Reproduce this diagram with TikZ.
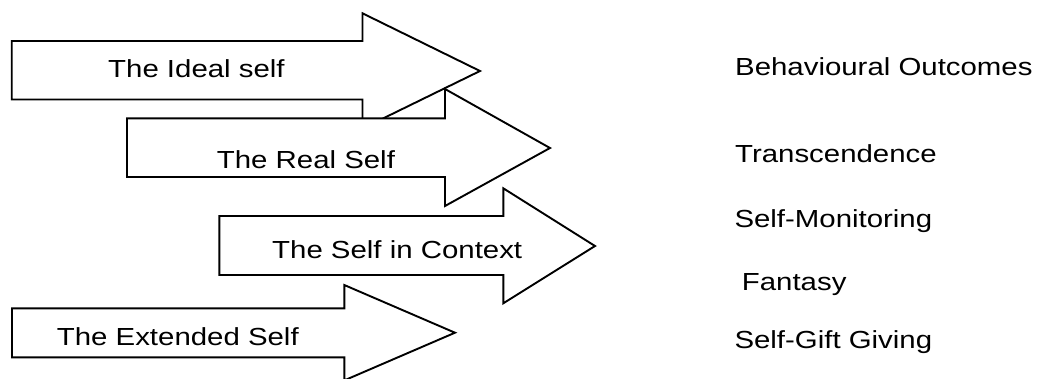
\documentclass[tikz,border=0pt]{standalone}
\usepackage{fontspec}
\usepackage{graphicx}
\setmainfont{Liberation Sans}
\newcommand\stretchtxt[1]{\scalebox{1.19}[1]{#1}}
\tikzset{
  x=1pt, y=-1pt,
  blockarrow/.style={draw=black, fill=white, line width=1.9pt, line join=miter},
  lbl/.style={font=\fontsize{24.7}{30}\selectfont, inner sep=0pt, anchor=base west, text=black}
}
\begin{document}
\begin{tikzpicture}
\clip (0,0) rectangle (1039,378);
\fill[white] (0,0) rectangle (1039,378);
% arrow 1: The Ideal self
\draw[blockarrow] (11.7,41) -- (362.5,41) -- (362.5,13.3) -- (480,71) -- (362.5,128.5) -- (362.5,99.5) -- (11.7,99.5) -- cycle;
% arrow 2: The Real Self
\draw[blockarrow] (127,118.3) -- (445,118.3) -- (445,89) -- (550,148) -- (445,206) -- (445,177) -- (127,177) -- cycle;
% arrow 3: The Self in Context
\draw[blockarrow] (219.3,216) -- (503.3,216) -- (503.3,188.3) -- (595,246) -- (503.3,303.3) -- (503.3,275) -- (219.3,275) -- cycle;
% arrow 4: The Extended Self
\draw[blockarrow] (12,308.3) -- (344.3,308.3) -- (344.3,285) -- (455,332.7) -- (344.3,380.4) -- (344.3,357.3) -- (12,357.3) -- cycle;
% arrow labels
\node[lbl] (ideal) at (108,77.7) {\stretchtxt{The Ideal self}};
\node[lbl] (real) at (216.7,168.3) {\stretchtxt{The Real Self}};
\node[lbl] (context) at (272,258.3) {\stretchtxt{The Self in Context}};
\node[lbl] (extended) at (56.7,345.5) {\stretchtxt{The Extended Self}};
% outcomes
\node[lbl] (outcomes) at (735,75) {\stretchtxt{Behavioural Outcomes}};
\node[lbl] (transc) at (735,162.7) {\stretchtxt{Transcendence}};
\node[lbl] (monitor) at (734.3,227.3) {\stretchtxt{Self-Monitoring}};
\node[lbl] (fantasy) at (741.7,290) {\stretchtxt{Fantasy}};
\node[lbl] (gift) at (734.3,348.3) {\stretchtxt{Self-Gift Giving}};
\end{tikzpicture}
\end{document}
